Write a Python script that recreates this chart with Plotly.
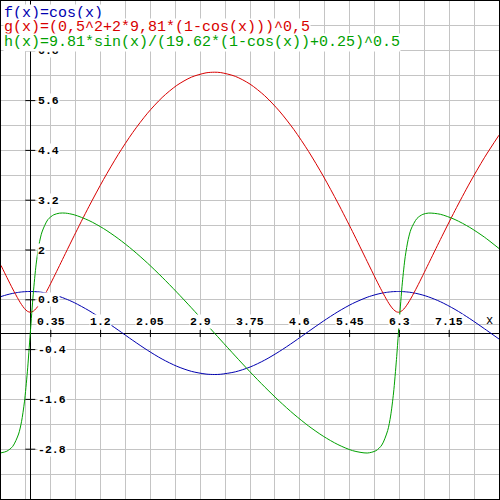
import plotly.graph_objects as go

# sample abscissae
x_vals = [-0.5, -0.4, -0.3, -0.2, -0.15, -0.1, -0.05, 0, 0.05, 0.1, 0.15, 0.2, 0.3, 0.4, 0.5,
          0.6, 0.75, 1.0, 1.25, 1.5, 1.75, 2.0, 2.25, 2.5, 2.75, 3.0, 3.1416, 3.25, 3.5, 3.75,
          4.0, 4.25, 4.5, 4.75, 5.0, 5.25, 5.5, 5.75, 5.9, 6.0, 6.1, 6.15, 6.2, 6.25, 6.2832,
          6.3, 6.35, 6.4, 6.45, 6.5, 6.6, 6.7, 6.8, 7.0, 7.25, 7.5, 7.75, 8.0]

f_vals = [0.878, 0.921, 0.955, 0.980, 0.989, 0.995, 0.999, 1.0, 0.999, 0.995, 0.989, 0.980, 0.955, 0.921, 0.878,
          0.825, 0.732, 0.540, 0.315, 0.071, -0.178, -0.416, -0.628, -0.801, -0.924, -0.990, -1.0, -0.994, -0.936, -0.821,
          -0.654, -0.446, -0.211, 0.038, 0.284, 0.512, 0.709, 0.861, 0.927, 0.960, 0.983, 0.991, 0.997, 0.999, 1.0,
          1.0, 0.998, 0.993, 0.986, 0.977, 0.950, 0.914, 0.869, 0.754, 0.568, 0.347, 0.104, -0.145]

g_vals = [1.629, 1.341, 1.061, 0.801, 0.686, 0.590, 0.524, 0.5, 0.524, 0.590, 0.686, 0.801, 1.061, 1.341, 1.629,
          1.918, 2.348, 3.045, 3.699, 4.299, 4.834, 5.295, 5.674, 5.966, 6.165, 6.269, 6.284, 6.275, 6.184, 5.998,
          5.718, 5.350, 4.900, 4.374, 3.782, 3.134, 2.443, 1.724, 1.293, 1.016, 0.760, 0.651, 0.564, 0.511, 0.5,
          0.503, 0.542, 0.619, 0.723, 0.842, 1.107, 1.389, 1.677, 2.254, 2.954, 3.615, 4.223, 4.767]

h_vals = [-2.888, -2.848, -2.732, -2.434, -2.138, -1.660, -0.936, 0.0, 0.936, 1.660, 2.138, 2.434, 2.732, 2.848, 2.888,
          2.889, 2.848, 2.711, 2.517, 2.276, 1.997, 1.685, 1.345, 0.984, 0.607, 0.221, 0.0, -0.169, -0.556, -0.935,
          -1.298, -1.641, -1.957, -2.241, -2.487, -2.688, -2.834, -2.892, -2.836, -2.699, -2.350, -2.001, -1.446, -0.637, 0.0,
          0.328, 1.208, 1.846, 2.254, 2.506, 2.760, 2.859, 2.890, 2.860, 2.733, 2.545, 2.311, 2.036]

x_ticks = [0.35, 1.2, 2.05, 2.9, 3.75, 4.6, 5.45, 6.3, 7.15]
x_tick_labels = ["0.35", "1.2", "2.05", "2.9", "3.75", "4.6", "5.45", "6.3", "7.15"]
y_ticks = [6.8, 5.6, 4.4, 3.2, 2, 0.8, -0.4, -1.6, -2.8]
y_tick_labels = ["6.8", "5.6", "4.4", "3.2", "2", "0.8", "-0.4", "-1.6", "-2.8"]

legend_lines = ["f(x)=cos(x)",
                "g(x)=(0,5^2+2*9,81*(1-cos(x)))^0,5",
                "h(x)=9.81*sin(x)/(19.62*(1-cos(x))+0.25)^0.5"]
colors = ["#0000b0", "#d80000", "#00a000"]

fig = go.Figure()
for yv, c in zip([f_vals, g_vals, h_vals], colors):
    fig.add_trace(go.Scatter(x=x_vals, y=yv, mode="lines",
                             line=dict(color=c, width=1, shape="spline", smoothing=0.8),
                             hoverinfo="skip", showlegend=False))

mono = "Liberation Mono, Courier New, monospace"
ann = []
shapes = []
for xv, lab in zip(x_ticks, x_tick_labels):
    shapes.append(dict(type="line", xref="x", yref="y", xsizemode="scaled", ysizemode="pixel",
                       x0=xv, x1=xv, yanchor=0, y0=-4, y1=3, line=dict(color="black", width=1)))
    ann.append(dict(x=xv, y=0, xref="x", yref="y", text="<b>%s</b>" % lab, showarrow=False,
                    xanchor="center", yanchor="middle", yshift=12, bgcolor="white", borderpad=0,
                    font=dict(family=mono, size=11.5, color="black")))
for yv, lab in zip(y_ticks, y_tick_labels):
    shapes.append(dict(type="line", xref="x", yref="y", xsizemode="pixel", ysizemode="scaled",
                       xanchor=0, x0=-5, x1=5, y0=yv, y1=yv, line=dict(color="black", width=1)))
    ann.append(dict(x=0, y=yv, xref="x", yref="y", text="<b>%s</b>" % lab, showarrow=False,
                    xanchor="left", yanchor="middle", xshift=7, bgcolor="white", borderpad=0,
                    font=dict(family=mono, size=11.5, color="black")))
ann.append(dict(x=7.83, y=0, xref="x", yref="y", text="x", showarrow=False,
                xanchor="center", yanchor="middle", yshift=12,
                font=dict(family=mono, size=12, color="black")))
for i, (t, c) in enumerate(zip(legend_lines, colors)):
    ann.append(dict(x=0, y=1, xref="paper", yref="paper", text=t, showarrow=False,
                    xanchor="left", yanchor="middle", xshift=2, yshift=-(12 + 14.7 * i),
                    bgcolor="white", borderpad=0,
                    font=dict(family=mono, size=15, color=c)))

fig.update_layout(
    width=500, height=500,
    margin=dict(l=1, r=1, t=1, b=1),
    paper_bgcolor="black", plot_bgcolor="white",
    xaxis=dict(range=[-0.5, 8.0], tick0=-0.5, dtick=0.425, showgrid=True, gridcolor="#c4c4c4",
               gridwidth=1, zeroline=True, zerolinecolor="black", zerolinewidth=1,
               showticklabels=False, ticks="", fixedrange=True),
    yaxis=dict(range=[-4.0, 8.0], tick0=-4, dtick=0.6, showgrid=True, gridcolor="#c4c4c4",
               gridwidth=1, zeroline=True, zerolinecolor="black", zerolinewidth=1,
               showticklabels=False, ticks="", fixedrange=True),
    annotations=ann, shapes=shapes, showlegend=False,
)
fig.write_html("out.html")
